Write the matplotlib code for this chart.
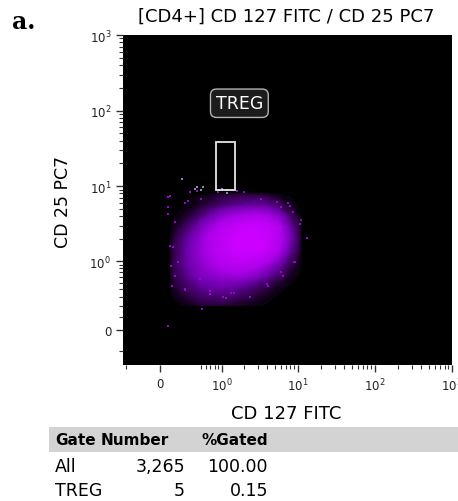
import numpy as np
import matplotlib
matplotlib.use('Agg')
import matplotlib.pyplot as plt
from matplotlib.colors import LinearSegmentedColormap
from matplotlib.patches import Rectangle

# --- data ---
title = '[CD4+] CD 127 FITC / CD 25 PC7'
x_label = 'CD 127 FITC'
y_label = 'CD 25 PC7'

major_ticks = [0, 1, 10, 100, 1000]
major_labels = ['0', '10$^0$', '10$^1$', '10$^2$', '10$^3$']

# density of the main population (estimated, rows = CD25, cols = CD127)
cloud_x = [0.1, 0.2, 0.35, 0.5, 0.7, 1.0, 1.4, 2.0, 2.8, 4.0, 5.6, 8.0, 11.0]
cloud_y = [0.2, 0.3, 0.45, 0.65, 1.0, 1.4, 2.0, 2.8, 4.0, 5.6, 8.0]
cloud_density = [
    [0.00, 0.00, 0.03, 0.06, 0.08, 0.08, 0.06, 0.04, 0.02, 0.00, 0.00, 0.00, 0.00],
    [0.00, 0.05, 0.12, 0.18, 0.20, 0.20, 0.18, 0.13, 0.08, 0.03, 0.00, 0.00, 0.00],
    [0.02, 0.12, 0.22, 0.30, 0.36, 0.38, 0.36, 0.30, 0.22, 0.12, 0.05, 0.00, 0.00],
    [0.05, 0.18, 0.33, 0.44, 0.50, 0.56, 0.60, 0.58, 0.50, 0.36, 0.20, 0.05, 0.00],
    [0.06, 0.22, 0.40, 0.52, 0.64, 0.76, 0.84, 0.86, 0.80, 0.66, 0.45, 0.16, 0.02],
    [0.05, 0.22, 0.42, 0.56, 0.70, 0.84, 0.96, 1.00, 1.00, 0.90, 0.66, 0.30, 0.03],
    [0.03, 0.18, 0.38, 0.54, 0.70, 0.85, 0.96, 1.00, 1.00, 0.96, 0.75, 0.38, 0.05],
    [0.00, 0.10, 0.26, 0.42, 0.58, 0.76, 0.88, 0.95, 0.97, 0.92, 0.72, 0.34, 0.03],
    [0.00, 0.02, 0.10, 0.22, 0.36, 0.50, 0.60, 0.66, 0.70, 0.64, 0.48, 0.18, 0.00],
    [0.00, 0.00, 0.02, 0.06, 0.12, 0.20, 0.26, 0.30, 0.32, 0.28, 0.16, 0.03, 0.00],
    [0.00, 0.00, 0.00, 0.00, 0.02, 0.05, 0.06, 0.06, 0.05, 0.03, 0.00, 0.00, 0.00],
]

# sparse events around the population
outlier_x = [0.08, 0.08, 0.08, 0.53, 0.12, 0.26, 1.15, 2.4, 13, 9, 11, 7.5, 2.0,
             0.33, 0.27, 0.08, 0.10, 0.11, 0.15, 0.7, 1.45, 4.1, 6.0, 8.7, 6.0, 0.5,
             0.1, 0.153, 0.131, 0.185, 0.12, 0.27, 0.49, 0.69, 1.04, 1.32, 2.4,
             4.0, 6.5, 9.3, 10.8, 8.0, 5.4, 3.3, 1.63, 0.89, 0.44, 0.31]
outlier_y = [7.2, 4.3, 0.03, 0.17, 0.45, 0.38, 0.28, 0.30, 2.05, 0.97, 3.6, 6.0, 8.3,
             8.4, 6.0, 5.3, 1.6, 0.85, 0.62, 0.33, 0.35, 0.45, 0.72, 4.5, 5.3, 6.8,
             7.5, 3.4, 1.58, 0.98, 0.45, 0.40, 0.57, 0.37, 0.30, 0.34, 0.30,
             0.48, 0.63, 0.98, 3.2, 5.5, 6.2, 6.8, 8.7, 8.4, 8.7, 6.4]

# events drawn in grey near / inside the TREG gate
grey_x = [0.23, 0.40, 0.43, 0.50, 0.55, 0.92, 1.0, 1.2, 1.2]
grey_y = [12.6, 9.3, 9.7, 8.8, 9.7, 8.8, 9.3, 8.8, 8.0]

gate_name = 'TREG'
gate_x = (0.83, 1.53)
gate_y = (8.9, 38.0)

table_header = ['Gate', 'Number', '%Gated']
table_gates = ['All', 'TREG']
table_numbers = ['3,265', '5']
table_pct = ['100.00', '0.15']


def make_scale(c):
    return (lambda v: np.arcsinh(np.asarray(v) / c),
            lambda u: c * np.sinh(np.asarray(u)))


fig = plt.figure(figsize=(4.58, 5.02), dpi=100)
ax = fig.add_axes([123 / 458, 1 - 366 / 502, 329 / 458, 330 / 502])
ax.set_facecolor('black')
ax.set_xscale('function', functions=make_scale(0.33))
ax.set_yscale('function', functions=make_scale(0.25))
ax.set_xlim(-0.45, 1000)
ax.set_ylim(-0.32, 1000)

cmap = LinearSegmentedColormap.from_list(
    'cloud', [(0.0, '#050008'), (0.12, '#32004a'), (0.35, '#6c00aa'),
              (0.65, '#aa00e8'), (1.0, '#cc00ff')])
X, Y = np.meshgrid(cloud_x, cloud_y)
ax.contourf(X, Y, np.array(cloud_density), levels=np.linspace(0.01, 1.0, 50),
            cmap=cmap, vmin=0.0, vmax=1.0, zorder=2)
ax.scatter(outlier_x, outlier_y, s=3, marker='s', color='#a000d8',
           linewidths=0, zorder=3)
ax.scatter(grey_x, grey_y, s=3, marker='s', color='#8a8aa8',
           linewidths=0, zorder=3)

ax.add_patch(Rectangle((gate_x[0], gate_y[0]), gate_x[1] - gate_x[0],
                       gate_y[1] - gate_y[0], fill=False, edgecolor='#e6e6e6',
                       lw=1.3, zorder=4))
ax.text(1.73, 125, gate_name, color='white', fontsize=12.5, ha='center', va='center',
        zorder=5, bbox=dict(boxstyle='round,pad=0.3,rounding_size=0.35',
                            fc='#1c1c1c', ec='#b4b4b4', lw=1))

# ticks
minor = [0.5, 0.6, 0.7, 0.8, 0.9] + [m * d for d in (1, 10, 100) for m in range(2, 10)]
minor_y = [-0.17] + [m / 10 for m in range(1, 10)] + \
    [m * d for d in (1, 10, 100) for m in range(2, 10)]
ax.set_xticks(major_ticks, major_labels)
ax.set_yticks(major_ticks, major_labels)
ax.set_xticks([-0.4] + minor, minor=True)
ax.set_yticks(minor_y, minor=True)
ax.tick_params(which='major', length=5, width=1, color='#333333', labelsize=8.5,
               labelcolor='#222222', direction='out')
ax.tick_params(which='minor', length=3, width=0.8, color='#333333', direction='out')
for s in ax.spines.values():
    s.set_visible(False)

fig.text(286 / 458, 1 - 17 / 502, title, ha='center', va='center', fontsize=13)
fig.text(63 / 458, 1 - 202 / 502, y_label, ha='center', va='center', rotation=90,
         fontsize=12.5)
fig.text(286 / 458, 1 - 414 / 502, x_label, ha='center', va='center', fontsize=13)
fig.text(12 / 458, 1 - 22 / 502, 'a.', ha='left', va='center', fontsize=17,
         fontweight='bold', family='DejaVu Serif')

# gate statistics table
fig.patches.append(Rectangle((49 / 458, 1 - 453 / 502), 1 - 49 / 458, 25 / 502,
                             transform=fig.transFigure, fc='#d3d3d3', ec='none'))
hy = 1 - 441 / 502
fig.text(55 / 458, hy, table_header[0], ha='left', va='center', fontsize=11,
         fontweight='bold')
fig.text(101 / 458, hy, table_header[1], ha='left', va='center', fontsize=11,
         fontweight='bold')
fig.text(268 / 458, hy, table_header[2], ha='right', va='center', fontsize=11,
         fontweight='bold')
for i, (g, n, p) in enumerate(zip(table_gates, table_numbers, table_pct)):
    ry = 1 - (467 + 24 * i) / 502
    fig.text(55 / 458, ry, g, ha='left', va='center', fontsize=12.5)
    fig.text(185 / 458, ry, n, ha='right', va='center', fontsize=12.5)
    fig.text(268 / 458, ry, p, ha='right', va='center', fontsize=12.5)

fig.savefig('out.png', dpi=100)
